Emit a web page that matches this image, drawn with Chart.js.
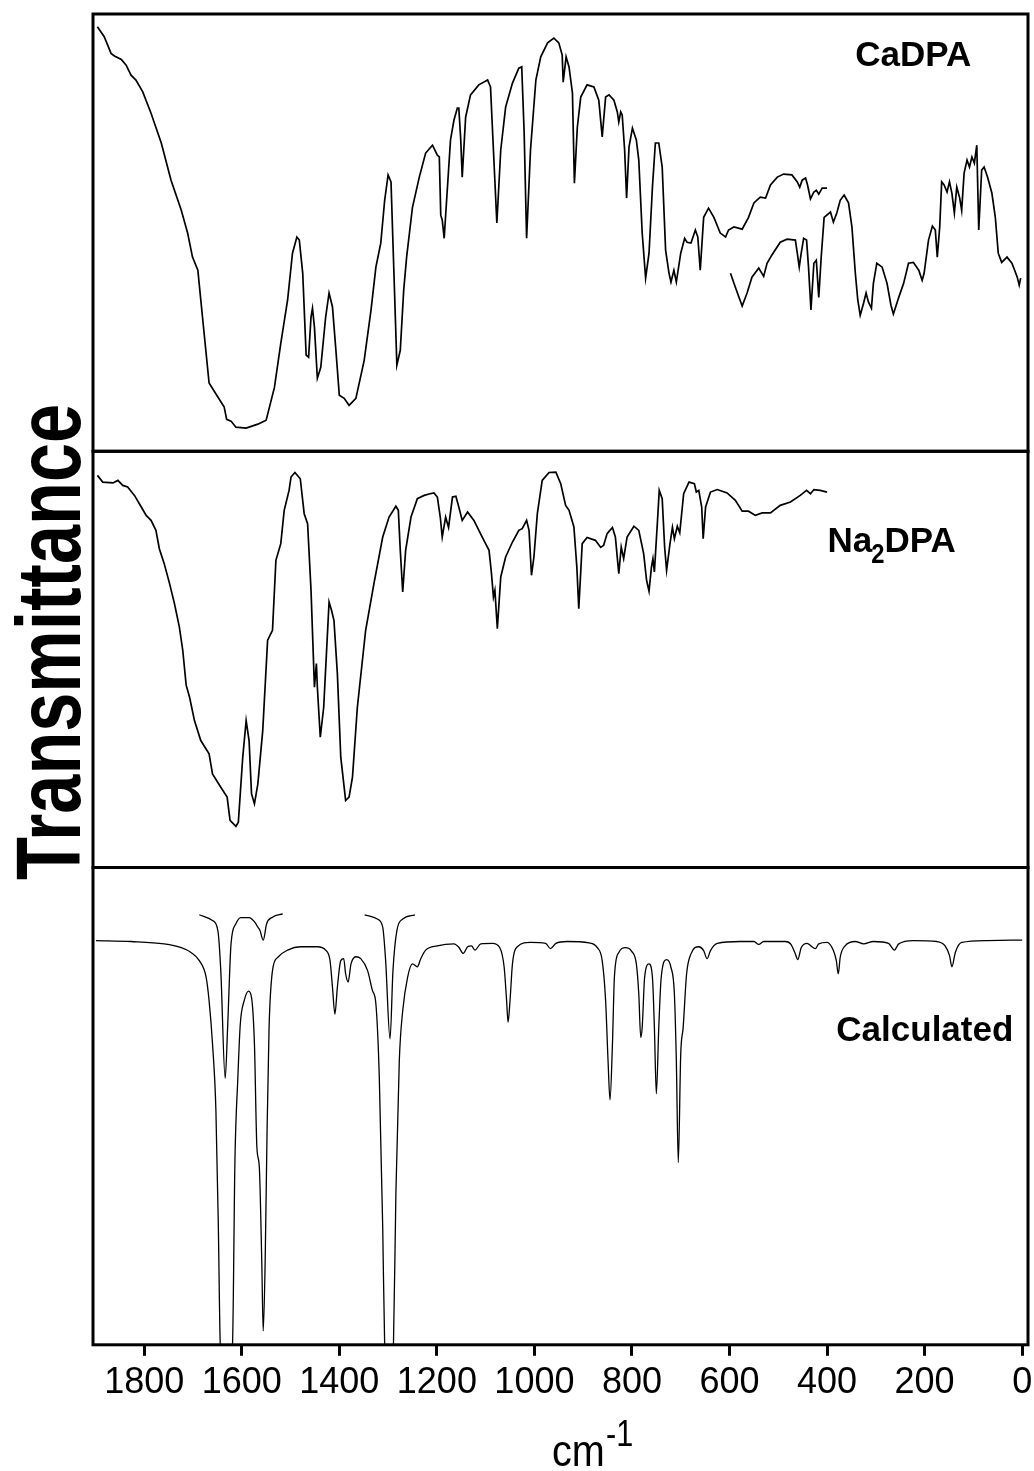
<!DOCTYPE html>
<html>
<head>
<meta charset="utf-8">
<script src="https://cdn.jsdelivr.net/npm/chart.js@4.4.0/dist/chart.umd.min.js"></script>
<style>
  html, body { margin: 0; padding: 0; background: #fff; }
  #wrap { width: 1034px; height: 1471px; position: relative; }
</style>
</head>
<body>
<div id="wrap"><canvas id="irChart"></canvas></div>
<script>
// wavenumbers in cm-1, transmittance in arbitrary units (0-100 inside each panel)
const caWavenumber = [
  1896, 1882, 1868, 1861, 1847, 1837, 1827, 1817, 1803, 1786,
  1765, 1745, 1724, 1711, 1701, 1690, 1684, 1667, 1649, 1636,
  1631, 1622, 1612, 1591, 1567, 1550, 1533, 1520, 1506, 1496,
  1487, 1482, 1475, 1468, 1463, 1458, 1455, 1451, 1445, 1438,
  1428, 1421, 1414, 1407, 1400, 1390, 1380, 1366, 1349, 1335,
  1325, 1315, 1307, 1300, 1294, 1288, 1282, 1275, 1268, 1262,
  1250, 1236, 1223, 1209, 1199, 1195, 1192, 1189, 1185, 1180,
  1172, 1165, 1158, 1155, 1151, 1148, 1141, 1131, 1114, 1096,
  1090, 1084, 1077, 1069, 1059, 1045, 1032, 1026, 1021, 1016,
  1008, 997, 987, 973, 960, 950, 943, 941, 935, 929,
  922, 918, 912, 905, 892, 878, 868, 861, 854, 847,
  837, 830, 827, 823, 820, 815, 811, 806, 799, 791,
  786, 779, 772, 765, 758, 752, 745, 738, 731, 724,
  720, 714, 709, 700, 692, 687, 679, 670, 665, 660,
  653, 643, 632, 619, 608, 602, 591, 574, 561, 550,
  537, 526, 516, 502, 489, 472, 461, 456, 451, 444,
  440, 434, 427, 422, 417, 410, 400
];
const caTransmittance = [
  97.1, 94.8, 91.0, 90.4, 89.6, 88.3, 86.0, 84.9, 82.2, 77.3,
  70.5, 62.0, 55.1, 49.9, 44.4, 41.4, 34.6, 15.6, 12.4, 10.1,
  7.3, 6.9, 5.5, 5.3, 6.2, 7.1, 14.6, 24.7, 34.6, 45.3,
  49.0, 48.3, 40.7, 22.0, 21.5, 30.7, 32.7, 28.4, 16.7, 19.2,
  30.7, 36.2, 33.0, 23.1, 12.8, 12.1, 10.5, 12.1, 20.8, 32.3,
  42.1, 47.6, 57.4, 63.2, 61.6, 40.7, 19.7, 23.1, 36.8, 44.4,
  55.8, 62.7, 68.2, 70.0, 67.7, 67.3, 54.0, 52.9, 48.7, 57.4,
  71.2, 75.7, 78.5, 78.5, 71.2, 62.7, 76.4, 81.5, 83.8, 84.9,
  83.3, 68.9, 52.2, 68.9, 78.7, 84.2, 87.6, 87.9, 72.8, 48.7,
  68.9, 84.9, 90.2, 93.4, 94.5, 93.4, 90.6, 84.4, 90.2, 87.9,
  81.9, 61.3, 74.1, 81.0, 83.8, 83.3, 80.3, 71.9, 81.0, 81.5,
  80.3, 77.6, 75.3, 77.6, 76.9, 68.9, 57.9, 69.6, 73.9, 71.2,
  66.6, 49.9, 39.6, 45.3, 60.4, 70.5, 70.5, 65.0, 46.0, 40.7,
  38.7, 41.4, 38.7, 45.3, 48.7, 47.8, 47.6, 50.6, 49.0, 41.4,
  53.5, 55.6, 53.5, 49.9, 49.0, 50.6, 51.3, 50.8, 53.5, 56.8,
  58.1, 57.9, 60.9, 62.7, 63.4, 63.2, 61.6, 60.4, 62.0, 62.5,
  60.9, 57.7, 59.3, 59.7, 58.8, 60.2, 60.2
];

// CaDPA far-IR part (second trace)
const caFarWavenumber = [
  598, 588, 574, 564, 554, 540, 530, 523, 513, 496,
  482, 465, 461, 457, 453, 448, 442, 438, 433, 427,
  422, 417, 412, 406, 393, 387, 380, 373, 365, 356,
  349, 342, 337, 332, 325, 320, 315, 309, 305, 298,
  287, 277, 269, 264, 253, 243, 233, 223, 212, 205,
  201, 192, 184, 178, 174, 169, 165, 160, 154, 149,
  144, 139, 134, 128, 124, 119, 113, 108, 103, 98,
  93, 89, 83, 78, 71, 62, 55, 49, 42, 31,
  21, 14, 10, 6, 3
];
const caFarTransmittance = [
  40.7, 37.5, 33.2, 36.2, 39.8, 41.9, 40.0, 43.0, 44.9, 47.8,
  48.5, 48.3, 45.3, 42.1, 45.3, 48.7, 48.3, 42.1, 32.3, 43.0,
  43.7, 35.2, 44.4, 53.5, 54.7, 52.4, 54.5, 57.4, 58.6, 56.8,
  51.3, 40.7, 34.6, 31.1, 33.9, 36.2, 34.1, 32.7, 38.4, 43.0,
  42.1, 38.4, 33.4, 31.4, 35.2, 38.4, 43.0, 43.2, 41.4, 39.1,
  40.7, 48.3, 51.5, 50.6, 44.4, 51.3, 61.6, 60.9, 59.3, 61.6,
  59.0, 54.5, 60.4, 57.9, 55.1, 63.6, 66.6, 65.0, 67.3, 65.9,
  70.0, 50.6, 64.3, 65.0, 62.7, 59.0, 53.5, 45.3, 43.2, 44.4,
  43.0, 41.0, 39.8, 38.0, 39.6
];

const naWavenumber = [
  1896, 1885, 1864, 1854, 1844, 1834, 1820, 1806, 1796, 1786,
  1776, 1769, 1759, 1748, 1738, 1728, 1721, 1714, 1707, 1697,
  1684, 1667, 1660, 1643, 1630, 1624, 1612, 1607, 1598, 1591,
  1585, 1580, 1574, 1567, 1557, 1547, 1537, 1530, 1520, 1513,
  1503, 1499, 1491, 1480, 1472, 1465, 1458, 1451, 1447, 1445,
  1439, 1432, 1425, 1421, 1416, 1411, 1404, 1397, 1387, 1380,
  1373, 1363, 1346, 1329, 1311, 1298, 1284, 1279, 1275, 1270,
  1264, 1253, 1240, 1226, 1214, 1206, 1199, 1193, 1189, 1182,
  1176, 1168, 1161, 1155, 1148, 1137, 1124, 1107, 1093, 1088,
  1084, 1081, 1076, 1069, 1059, 1045, 1032, 1025, 1016, 1011,
  1006, 1001, 994, 984, 970, 956, 946, 936, 929, 919,
  913, 909, 902, 892, 875, 864, 858, 851, 840, 834,
  827, 822, 817, 810, 796, 786, 776, 770, 765, 760,
  757, 754, 748, 744, 738, 733, 729, 722, 717, 713,
  707, 702, 694, 683, 672, 668, 663, 657, 654, 649,
  639, 625, 605, 588, 574, 561, 547, 533, 516, 496,
  475, 455, 442, 434, 427, 414, 400
];
const naTransmittance = [
  94.2, 92.6, 92.4, 93.0, 91.8, 91.4, 89.4, 86.6, 84.6, 83.4,
  81.0, 76.6, 73.0, 68.2, 63.4, 57.8, 52.2, 43.8, 40.9, 35.3,
  30.5, 27.3, 22.5, 19.3, 16.9, 11.3, 9.9, 10.9, 26.5, 35.3,
  30.5, 17.7, 15.3, 20.1, 32.9, 54.6, 57.0, 73.8, 77.8, 85.8,
  90.6, 93.8, 94.9, 93.4, 85.0, 82.6, 66.6, 43.3, 49.0, 43.3,
  31.3, 38.5, 54.6, 63.8, 61.8, 59.4, 46.6, 26.5, 16.1, 16.9,
  21.7, 38.5, 57.0, 68.2, 79.4, 84.2, 86.8, 85.8, 76.2, 66.2,
  76.2, 84.2, 88.6, 89.4, 89.8, 90.0, 89.0, 84.2, 79.4, 84.2,
  81.7, 89.0, 89.2, 86.6, 83.4, 85.4, 83.4, 79.4, 76.2, 70.6,
  65.0, 66.6, 57.4, 69.8, 74.6, 78.2, 81.0, 81.4, 83.4, 81.0,
  70.2, 74.6, 85.0, 93.0, 94.9, 95.0, 92.2, 87.0, 85.8, 81.8,
  72.2, 62.2, 77.8, 79.3, 78.6, 76.9, 77.4, 80.2, 81.7, 79.4,
  70.6, 77.0, 74.2, 79.4, 82.0, 81.0, 75.4, 69.0, 66.4, 72.2,
  74.2, 71.0, 82.6, 90.6, 88.6, 77.0, 71.4, 77.8, 81.7, 79.0,
  82.0, 80.4, 89.8, 92.6, 92.2, 90.2, 90.6, 86.6, 79.0, 86.6,
  90.2, 90.8, 90.0, 88.2, 85.6, 85.6, 84.6, 85.2, 85.2, 87.0,
  87.8, 89.4, 90.6, 89.8, 90.8, 90.6, 90.2
];

const calcWavenumber = [
  1899, 1827, 1759, 1724, 1704, 1687, 1673, 1667, 1660, 1653,
  1648, 1644, 1631, 1619, 1614, 1608, 1603, 1595, 1586, 1580,
  1574, 1569, 1564, 1559, 1556, 1552, 1548, 1544, 1537, 1526,
  1506, 1479, 1445, 1428, 1419, 1414, 1409, 1404, 1397, 1391,
  1387, 1382, 1376, 1366, 1356, 1342, 1332, 1325, 1318, 1311,
  1307, 1298, 1289, 1284, 1277, 1270, 1260, 1250, 1240, 1233,
  1223, 1199, 1165, 1155, 1146, 1137, 1129, 1122, 1110, 1086,
  1071, 1062, 1057, 1054, 1050, 1045, 1035, 1008, 977, 967,
  956, 933, 888, 871, 861, 854, 849, 845, 840, 836,
  827, 813, 801, 791, 786, 782, 779, 774, 765, 758,
  754, 750, 745, 740, 729, 720, 713, 709, 705, 700,
  695, 688, 679, 663, 653, 646, 639, 625, 578, 550,
  540, 530, 485, 474, 465, 460, 453, 441, 431, 424,
  417, 400, 387, 381, 377, 373, 363, 342, 325, 305,
  274, 262, 253, 223, 175, 158, 149, 144, 137, 124,
  72, 0
];
const calcTransmittance = [
  84.7, 84.5, 84.0, 83.2, 82.2, 80.5, 77.0, 72.1, 63.1, 49.1,
  24.6, 0, -8, 0, 38.6, 56.0, 67.2, 72.1, 74.1, 72.8,
  63.0, 41.4, 37.2, 17.6, 2.9, 17.6, 45.6, 66.5, 78.4, 81.2,
  82.7, 83.4, 83.4, 82.7, 80.5, 74.9, 69.3, 74.9, 80.5, 80.9,
  77.7, 76.0, 79.8, 81.3, 80.9, 78.4, 74.2, 71.4, 56.0, 24.6,
  0, -8, 0, 31.7, 59.5, 70.0, 77.0, 79.8, 79.2, 80.9,
  82.7, 83.6, 84.0, 83.3, 82.0, 83.4, 83.6, 82.7, 84.0, 84.1,
  83.2, 79.1, 72.1, 67.6, 72.1, 79.8, 83.4, 84.3, 84.1, 83.0,
  84.1, 84.5, 84.2, 83.2, 80.5, 72.1, 59.5, 51.3, 63.0, 77.0,
  82.2, 83.2, 82.5, 79.8, 73.5, 64.4, 66.5, 77.0, 79.8, 77.0,
  66.5, 52.6, 66.5, 77.0, 80.7, 79.1, 73.5, 59.5, 38.2, 60.9,
  66.5, 77.7, 81.9, 83.4, 82.6, 80.9, 82.6, 84.1, 84.5, 84.5,
  83.9, 84.5, 84.5, 83.9, 81.9, 80.7, 83.2, 84.1, 83.4, 83.0,
  84.0, 84.3, 82.6, 80.5, 77.7, 81.2, 83.6, 84.5, 84.0, 84.5,
  84.1, 82.7, 84.0, 84.7, 84.5, 83.6, 81.6, 79.2, 82.2, 84.3,
  84.7, 84.8
];

// scaled-down copies of the two strongest calculated regions
const calcInsetAWavenumber = [1687, 1660, 1649, 1643, 1634, 1629, 1622, 1612, 1602, 1585, 1573, 1567, 1563, 1556, 1549, 1537, 1516];
const calcInsetATransmittance = [90.1, 88.9, 86.8, 78.4, 55.8, 66.5, 84.0, 88.2, 89.5, 89.5, 88.5, 87.5, 86.9, 84.8, 88.2, 89.6, 90.3];
const calcInsetBWavenumber = [1348, 1322, 1311, 1305, 1296, 1290, 1282, 1270, 1245];
const calcInsetBTransmittance = [90.1, 89.2, 87.5, 80.5, 64.1, 78.4, 86.8, 89.2, 90.1];

const xTickValues = [0, 200, 400, 600, 800, 1000, 1200, 1400, 1600, 1800];
const xMin = -12;
const xMax = 1905;

const fontFamily = '"Liberation Sans", Arial, Helvetica, sans-serif';

function toPoints(xs, ys) {
  return xs.map((x, i) => ({ x: x, y: ys[i] }));
}

function spectrum(label, xs, ys, axis, extra) {
  return Object.assign({
    label: label,
    data: toPoints(xs, ys),
    yAxisID: axis,
    borderColor: "#000",
    borderWidth: 1.7,
    pointRadius: 0,
    fill: false,
    tension: 0,
  }, extra || {});
}

// frames around the three panels
const panelFrames = {
  id: "panelFrames",
  afterDatasetsDraw(chart) {
    const { ctx, chartArea, scales } = chart;
    ctx.save();
    ctx.strokeStyle = "#000";
    ctx.lineWidth = 3;
    ["yCa", "yNa", "yCalc"].forEach(function (id) {
      const s = scales[id];
      ctx.strokeRect(chartArea.left, s.top, chartArea.right - chartArea.left, s.bottom - s.top);
    });
    ctx.restore();
  },
};

function drawScaled(ctx, text, x, y, sx) {
  ctx.save();
  ctx.translate(x, y);
  ctx.scale(sx, 1);
  ctx.fillText(text, 0, 0);
  ctx.restore();
}

// panel names and axis titles
const panelLabels = {
  id: "panelLabels",
  afterDraw(chart) {
    const { ctx, chartArea, scales } = chart;
    const x = scales.x;
    ctx.save();
    ctx.fillStyle = "#000";
    ctx.textAlign = "left";
    ctx.textBaseline = "alphabetic";

    const big = "bold 35px " + fontFamily;
    ctx.font = big;
    ctx.fillText("CaDPA", x.getPixelForValue(342), scales.yCa.getPixelForValue(88));

    let px = x.getPixelForValue(399);
    const py = scales.yNa.getPixelForValue(75.7);
    ctx.fillText("Na", px, py);
    px += ctx.measureText("Na").width;
    ctx.font = "bold 28px " + fontFamily;
    drawScaled(ctx, "2", px - 1, py + 11, 0.85);
    px += ctx.measureText("2").width * 0.85 - 1;
    ctx.font = big;
    ctx.fillText("DPA", px, py);

    ctx.fillText("Calculated", x.getPixelForValue(381), scales.yCalc.getPixelForValue(63.7));

    // y title
    ctx.save();
    ctx.font = "bold 90px " + fontFamily;
    ctx.textAlign = "center";
    ctx.translate(chartArea.left - 13, chartArea.top + 628);
    ctx.rotate(-Math.PI / 2);
    ctx.scale(0.78, 1);
    ctx.fillText("Transmittance", 0, 0);
    ctx.restore();

    // x title
    ctx.font = "44px " + fontFamily;
    drawScaled(ctx, "cm", 552, chartArea.bottom + 121, 0.9);
    ctx.font = "36px " + fontFamily;
    drawScaled(ctx, "-1", 606, chartArea.bottom + 101, 0.85);
    ctx.restore();
  },
};

const hiddenY = {
  type: "linear",
  position: "left",
  stack: "panels",
  min: 0,
  max: 100,
  ticks: { display: false },
  grid: { display: false, drawTicks: false },
  border: { display: false },
};

const ctx = document.getElementById("irChart").getContext("2d");

new Chart(ctx, {
  type: "line",
  data: {
    datasets: [
      spectrum("CaDPA", caWavenumber, caTransmittance, "yCa"),
      spectrum("CaDPA far IR", caFarWavenumber, caFarTransmittance, "yCa"),
      spectrum("Na2DPA", naWavenumber, naTransmittance, "yNa"),
      spectrum("Calculated", calcWavenumber, calcTransmittance, "yCalc", { borderWidth: 1.3, cubicInterpolationMode: "monotone" }),
      spectrum("Calculated inset 1", calcInsetAWavenumber, calcInsetATransmittance, "yCalc", { borderWidth: 1.3, cubicInterpolationMode: "monotone" }),
      spectrum("Calculated inset 2", calcInsetBWavenumber, calcInsetBTransmittance, "yCalc", { borderWidth: 1.3, cubicInterpolationMode: "monotone" }),
    ],
  },
  options: {
    responsive: true,
    maintainAspectRatio: false,
    animation: false,
    events: [],
    layout: { padding: { left: 93, right: 6, top: 14, bottom: 60 } },
    plugins: {
      legend: { display: false },
      tooltip: { enabled: false },
    },
    scales: {
      x: {
        type: "linear",
        reverse: true,
        min: xMin,
        max: xMax,
        afterBuildTicks: function (scale) {
          scale.ticks = xTickValues.map(function (v) { return { value: v }; });
        },
        ticks: {
          color: "#000",
          font: { family: fontFamily, size: 36 },
          padding: 6,
          maxRotation: 0,
          autoSkip: false,
          callback: function (v) { return String(v); },
        },
        grid: {
          display: true,
          drawOnChartArea: false,
          drawTicks: true,
          tickLength: 11,
          lineWidth: 3,
          color: "#000",
        },
        border: { display: false },
      },
      yCalc: Object.assign({}, hiddenY, { stackWeight: 477 }),
      yNa: Object.assign({}, hiddenY, { stackWeight: 416 }),
      yCa: Object.assign({}, hiddenY, { stackWeight: 437 }),
    },
  },
  plugins: [panelFrames, panelLabels],
});
</script>
</body>
</html>
